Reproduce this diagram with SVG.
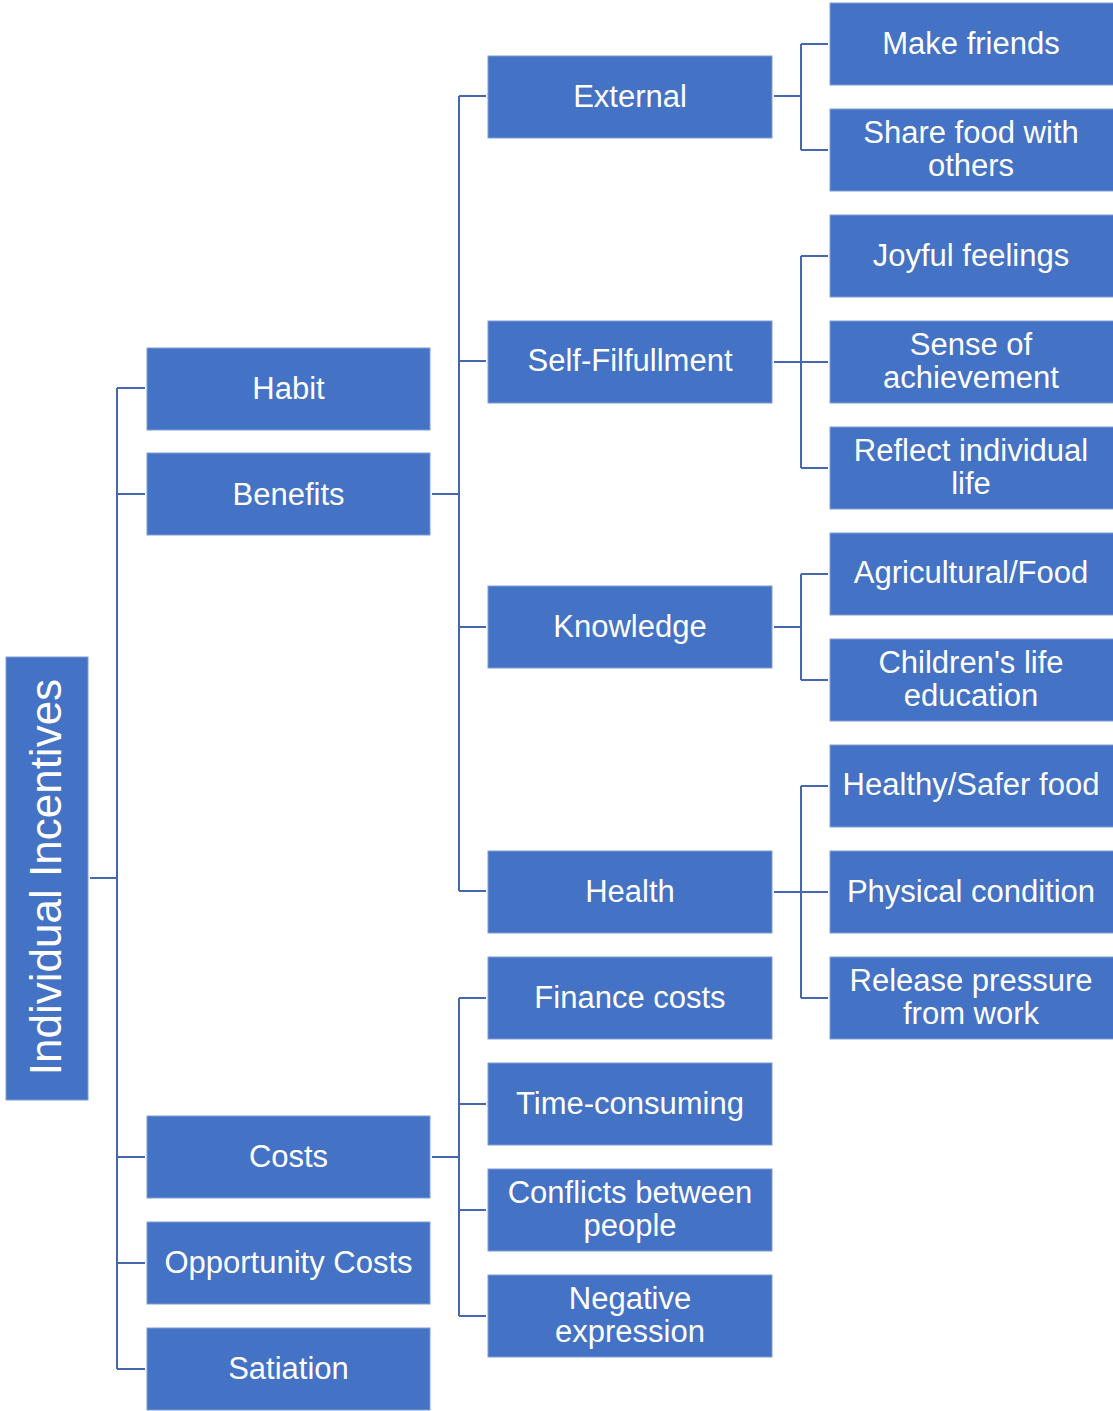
<svg xmlns="http://www.w3.org/2000/svg" width="1113" height="1411" viewBox="0 0 1113 1411">
<style>
.box{fill:#4472C4;stroke:#7F9DD6;stroke-width:1}
.t{font-family:"Liberation Sans",Arial,sans-serif;font-size:31px;fill:#ffffff;text-anchor:middle}
.root{font-size:44px}
.c{fill:none;stroke:#4467B0;stroke-width:2}
</style>
<rect width="1113" height="1411" fill="#ffffff"/>
<g id="connectors">
<path class="c" d="M90 878H117M117 388V1369M117 388H145M117 494H145M117 1157H145M117 1263H145M117 1369H145"/>
<path class="c" d="M432 494H459M459 96V891M459 96H486M459 361H486M459 627H486M459 891H486"/>
<path class="c" d="M432 1157H459M459 998V1316M459 998H486M459 1104H486M459 1210H486M459 1316H486"/>
<path class="c" d="M774 96H801M801 44V150M801 44H828M801 150H828"/>
<path class="c" d="M774 362H828M801 256V468M801 256H828M801 468H828"/>
<path class="c" d="M774 627H801M801 574V680M801 574H828M801 680H828"/>
<path class="c" d="M774 892H828M801 786V998M801 786H828M801 998H828"/>
</g>
<g id="n-root"><rect class="box" x="6" y="657" width="82" height="443"/><text class="t root" x="44.5" y="893" transform="rotate(-90 44.5 877)">Individual Incentives</text></g>
<g id="n-habit"><rect class="box" x="147" y="348" width="283" height="82"/><text class="t" x="288.5" y="399">Habit</text></g>
<g id="n-benefits"><rect class="box" x="147" y="453" width="283" height="82"/><text class="t" x="288.5" y="505">Benefits</text></g>
<g id="n-costs"><rect class="box" x="147" y="1116" width="283" height="82"/><text class="t" x="288.5" y="1167">Costs</text></g>
<g id="n-opp"><rect class="box" x="147" y="1222" width="283" height="82"/><text class="t" x="288.5" y="1273">Opportunity Costs</text></g>
<g id="n-satiation"><rect class="box" x="147" y="1328" width="283" height="82"/><text class="t" x="288.5" y="1379">Satiation</text></g>
<g id="n-external"><rect class="box" x="488" y="56" width="284" height="82"/><text class="t" x="630" y="107">External</text></g>
<g id="n-self"><rect class="box" x="488" y="321" width="284" height="82"/><text class="t" x="630" y="371">Self-Filfullment</text></g>
<g id="n-knowledge"><rect class="box" x="488" y="586" width="284" height="82"/><text class="t" x="630" y="637">Knowledge</text></g>
<g id="n-health"><rect class="box" x="488" y="851" width="284" height="82"/><text class="t" x="630" y="902">Health</text></g>
<g id="n-finance"><rect class="box" x="488" y="957" width="284" height="82"/><text class="t" x="630" y="1008">Finance costs</text></g>
<g id="n-time"><rect class="box" x="488" y="1063" width="284" height="82"/><text class="t" x="630" y="1114">Time-consuming</text></g>
<g id="n-conflicts"><rect class="box" x="488" y="1169" width="284" height="82"/><text class="t" x="630" y="1203">Conflicts between</text><text class="t" x="630" y="1236">people</text></g>
<g id="n-negative"><rect class="box" x="488" y="1275" width="284" height="82"/><text class="t" x="630" y="1309">Negative</text><text class="t" x="630" y="1342">expression</text></g>
<g id="n-friends"><rect class="box" x="830" y="3" width="290" height="82"/><text class="t" x="971" y="54">Make friends</text></g>
<g id="n-share"><rect class="box" x="830" y="109" width="290" height="82"/><text class="t" x="971" y="143">Share food with</text><text class="t" x="971" y="176">others</text></g>
<g id="n-joyful"><rect class="box" x="830" y="215" width="290" height="82"/><text class="t" x="971" y="266">Joyful feelings</text></g>
<g id="n-sense"><rect class="box" x="830" y="321" width="290" height="82"/><text class="t" x="971" y="355">Sense of</text><text class="t" x="971" y="388">achievement</text></g>
<g id="n-reflect"><rect class="box" x="830" y="427" width="290" height="82"/><text class="t" x="971" y="461">Reflect individual</text><text class="t" x="971" y="494">life</text></g>
<g id="n-agri"><rect class="box" x="830" y="533" width="290" height="82"/><text class="t" x="971" y="583">Agricultural/Food</text></g>
<g id="n-children"><rect class="box" x="830" y="639" width="290" height="82"/><text class="t" x="971" y="673">Children's life</text><text class="t" x="971" y="706">education</text></g>
<g id="n-healthy"><rect class="box" x="830" y="745" width="290" height="82"/><text class="t" x="971" y="795">Healthy/Safer food</text></g>
<g id="n-physical"><rect class="box" x="830" y="851" width="290" height="82"/><text class="t" x="971" y="902">Physical condition</text></g>
<g id="n-release"><rect class="box" x="830" y="957" width="290" height="82"/><text class="t" x="971" y="991">Release pressure</text><text class="t" x="971" y="1024">from work</text></g>
</svg>
